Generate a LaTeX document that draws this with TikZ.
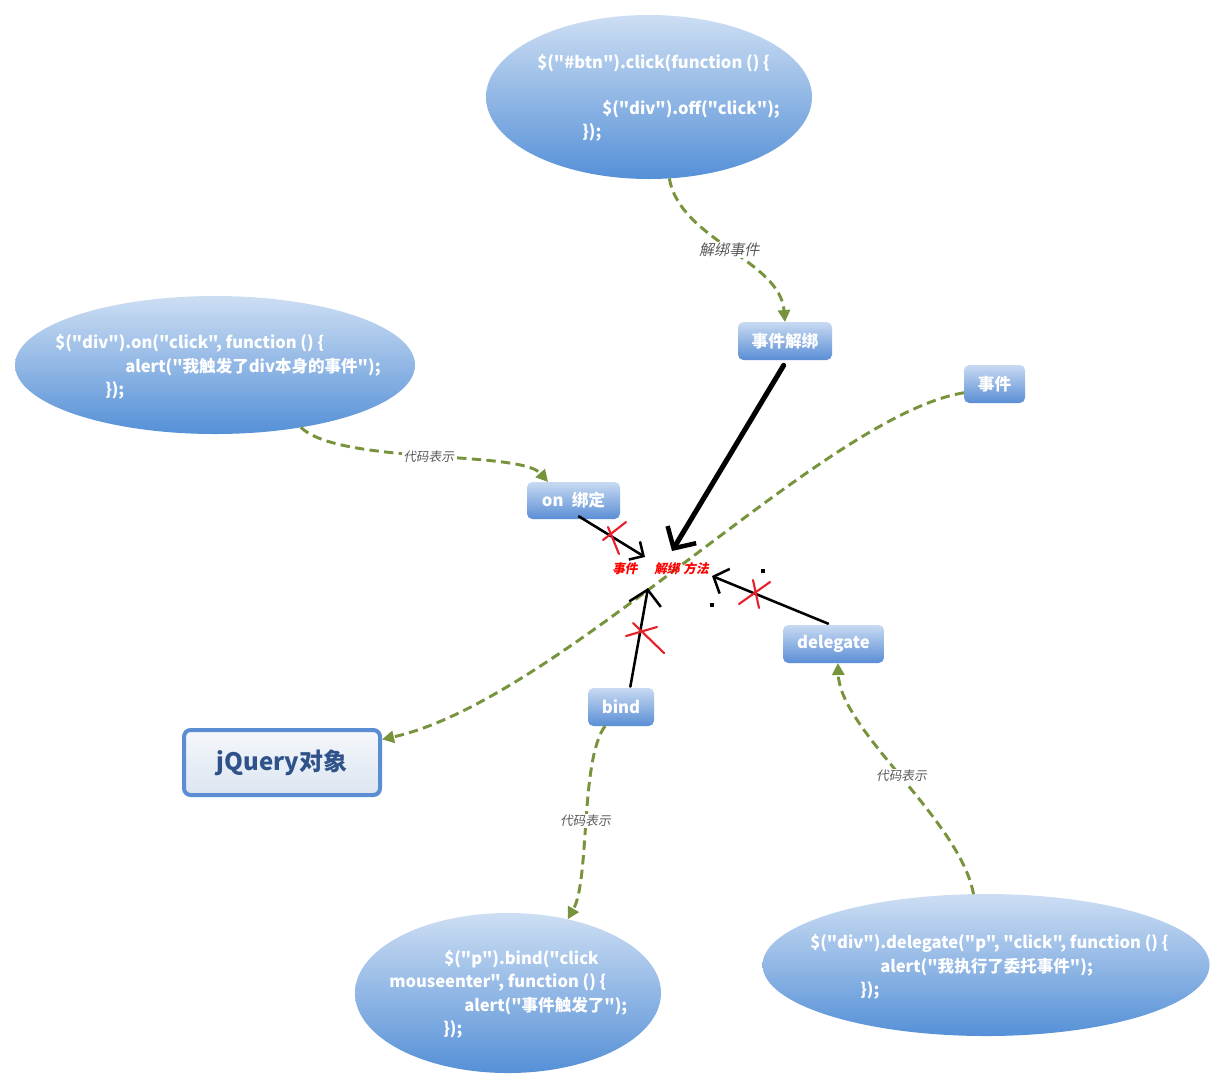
\documentclass[tikz,border=0pt]{standalone}
\usepackage{fontspec}
\setmainfont{Noto Sans CJK SC}[Ligatures=TeXOff]
\newfontfamily\slantfont{Noto Sans CJK SC}[FakeSlant=0.2,Ligatures=TeXOff]
\usetikzlibrary{shapes.geometric,arrows.meta,shadings}

\definecolor{bubtop}{HTML}{CDDEF3}
\definecolor{bubbot}{HTML}{5590D7}
\definecolor{tagtop}{HTML}{C8DAF2}
\definecolor{tagbot}{HTML}{5A8ED5}
\definecolor{linkgreen}{HTML}{77933C}
\definecolor{notegray}{HTML}{5A5A5A}
\definecolor{crossred}{HTML}{E8202A}
\definecolor{jqborder}{HTML}{5B8DD3}
\definecolor{jqtop}{HTML}{F5F7FB}
\definecolor{jqbot}{HTML}{DCE5F1}
\definecolor{jqtext}{HTML}{30528A}

\begin{document}
\begin{tikzpicture}[x=0.75pt,y=-0.75pt,
  bubble/.style={ellipse, draw=none, inner sep=0pt, outer sep=0pt,
    top color=bubtop, bottom color=bubbot},
  code/.style={anchor=base west, inner sep=0pt, text=white,
    font=\fontsize{12.4}{14}\selectfont\bfseries},
  tag/.style={rounded corners=4pt, draw=none, inner sep=0pt, outer sep=0pt,
    top color=tagtop, bottom color=tagbot, text=white,
    font=\fontsize{12.5}{15}\selectfont\bfseries},
  link/.style={draw=linkgreen, line width=2.2pt, dash pattern=on 7pt off 4pt,
    -{Triangle[length=9pt,width=9pt]}},
  note/.style={fill=white, inner sep=1pt, text=notegray},
  push/.style={draw=black, line cap=round, line join=round},
  cross/.style={draw=crossred, line width=1.6pt, line cap=round},
  hot/.style={text=red, inner sep=0pt, anchor=base west,
    font=\slantfont\fontsize{9.5}{11}\selectfont\bfseries}]

\fill[white] (0,0) rectangle (1226,1090);
\useasboundingbox (0,0) rectangle (1226,1090);

% code bubbles
\node[bubble, minimum width=244.5pt, minimum height=123pt] (offbub) at (649,97) {};
\node[bubble, minimum width=300pt, minimum height=103.5pt] (onbub) at (215,365) {};
\node[bubble, minimum width=229.5pt, minimum height=120pt] (bindbub) at (508,993) {};
\node[bubble, minimum width=335.25pt, minimum height=106.5pt] (delbub) at (986,965) {};

\node[code] (off1) at (537,68) {\$("\#btn").click(function () \{};
\node[code] (off2) at (602,114) {\$("div").off("click");};
\node[code] (off3) at (582,137) {\});};

\node[code] (on1) at (55,348) {\$("div").on("click", function () \{};
\node[code] (on2) at (125,372) {alert("我触发了div本身的事件");};
\node[code] (on3) at (105,395) {\});};

\node[code] (bind1) at (444,964) {\$("p").bind("click};
\node[code] (bind2) at (389,987) {mouseenter", function () \{};
\node[code] (bind3) at (464,1011) {alert("事件触发了");};
\node[code] (bind4) at (443,1034) {\});};

\node[code] (del1) at (810,948) {\$("div").delegate("p", "click", function () \{};
\node[code] (del2) at (880,972) {alert("我执行了委托事件");};
\node[code] (del3) at (860,995) {\});};

% method tags
\node[tag, minimum width=70.5pt, minimum height=28.5pt] (unbind) at (785,341) {事件解绑};
\node[tag, minimum width=45.75pt, minimum height=28.5pt] (event) at (994.5,384) {事件};
\node[tag, minimum width=69.75pt, minimum height=27.75pt] (on) at (573.5,500.5) {on\hspace{0.5em}绑定};
\node[tag, minimum width=75.75pt, minimum height=28.5pt] (delegate) at (833.5,644) {delegate};
\node[tag, minimum width=49.5pt, minimum height=28.5pt] (bind) at (621,707) {bind};

% jQuery object
\node[draw=jqborder, line width=3pt, rounded corners=5pt, top color=jqtop, bottom color=jqbot,
  minimum width=147pt, minimum height=48.75pt, inner sep=0pt, text=jqtext,
  font=\fontsize{18}{21}\selectfont\bfseries] (jq) at (282,762.5) {jQuery对象};

% green dashed links
\draw[link] (offbub.-76) .. controls (680,240) and (780,260) ..
  node[note, font=\slantfont\fontsize{11.3}{13}\selectfont] (n1) {解绑事件} (unbind.north);
\draw[link] (onbub.-36) .. controls (340,465) and (520,450) ..
  node[note, font=\slantfont\fontsize{9.5}{11}\selectfont] (n2) {代码表示} (on.144);
\draw[link] (event.196) .. controls (825,415) and (560,700) .. (jq.13);
\draw[link] (bind.-130) .. controls (580,760) and (590,880) ..
  node[note, font=\slantfont\fontsize{9.5}{11}\selectfont] (n3) {代码表示} (bindbub.51);
\draw[link] (delbub.100) .. controls (960,820) and (840,730) ..
  node[note, font=\slantfont\fontsize{9.5}{11}\selectfont] (n4) {代码表示} (delegate.-77);

% hub text
\node[hot] (hot1) at (612,573) {事件};
\node[hot] (hot2) at (654,573) {解绑\hspace{0.3em}方法};

% black arrows into the hub
\coordinate (tipA) at (672,551);
\coordinate (tipB) at (645,557);
\coordinate (tipC) at (648,588);
\coordinate (tipD) at (712,576);
\draw[push, line width=3.8pt, -{Straight Barb[length=12pt,width=25pt,line width=3.4pt]}]
  ([xshift=-1pt,yshift=-4pt]unbind.south) -- (tipA);
\draw[push, line width=1.9pt, -{Straight Barb[length=8pt,width=16pt]}]
  ([xshift=4pt,yshift=2pt]on.south) -- (tipB);
\draw[push, line width=1.9pt, -{Straight Barb[length=11pt,width=24pt]}]
  ([xshift=7pt,yshift=1pt]bind.north) -- (tipC);
\draw[push, line width=1.9pt, -{Straight Barb[length=9pt,width=20pt]}]
  ([xshift=-4pt,yshift=1pt]delegate.north) -- (tipD);
\fill (761,569) rectangle (765,573);
\fill (710,603) rectangle (714,607);

% red crosses
\draw[cross] (603,540) -- (626,522);
\draw[cross] (608,527) -- (619,554);
\draw[cross] (626,636) -- (657,627);
\draw[cross] (633,623) -- (664,653);
\draw[cross] (739,604) -- (770,582);
\draw[cross] (753,580) -- (759,608);

\end{tikzpicture}
\end{document}
